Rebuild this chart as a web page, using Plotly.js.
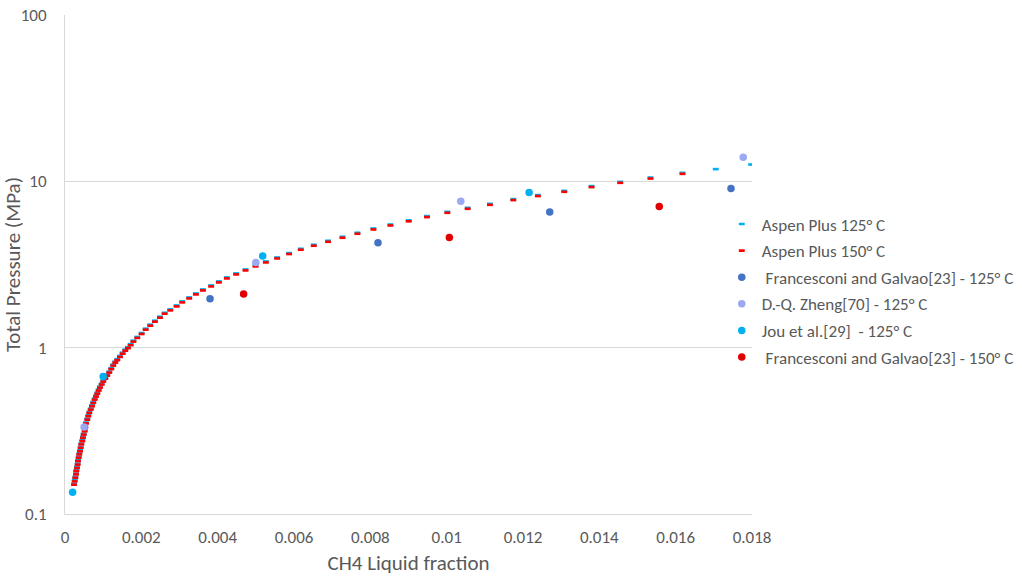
<!DOCTYPE html>
<html>
<head>
<meta charset="utf-8">
<script src="https://cdn.plot.ly/plotly-3.0.1.min.js"></script>
<style>
html,body{margin:0;padding:0;background:#fff;}
#chart{width:1022px;height:576px;}
</style>
</head>
<body>
<div id="chart"></div>
<script>
// Aspen Plus 150 °C (red dashes)
const aspen150X = [0.000236,0.000254,0.00027,0.000288,0.000296,0.000314,0.000332,0.00034,0.000359,0.000374,0.000393,0.000411,0.000427,0.000453,0.000471,0.00049,0.000516,0.000531,0.00055,0.000584,0.00061,0.000636,0.000673,0.000707,0.000741,0.000777,0.000812,0.000846,0.000882,0.000916,0.000961,0.001003,0.001055,0.001107,0.00116,0.001212,0.001264,0.001317,0.001369,0.00144,0.00151,0.001579,0.001649,0.00172,0.001793,0.001893,0.002008,0.002113,0.002233,0.002356,0.002487,0.00261,0.002757,0.002924,0.003071,0.003254,0.003429,0.003613,0.00383,0.004031,0.004241,0.004484,0.00473,0.004992,0.005262,0.005558,0.005872,0.006178,0.006518,0.006893,0.00727,0.007662,0.008081,0.008526,0.009005,0.009484,0.010018,0.01055,0.011134,0.011746,0.01239,0.013081,0.013796,0.014547,0.01534,0.016178];
const aspen150P = [0.150,0.157,0.165,0.173,0.181,0.189,0.198,0.208,0.218,0.228,0.238,0.250,0.262,0.274,0.287,0.300,0.314,0.331,0.350,0.369,0.387,0.405,0.424,0.444,0.465,0.487,0.508,0.529,0.552,0.575,0.600,0.625,0.651,0.679,0.708,0.743,0.780,0.813,0.841,0.879,0.920,0.959,0.993,1.035,1.087,1.144,1.208,1.283,1.356,1.433,1.514,1.600,1.675,1.770,1.871,1.977,2.090,2.208,2.334,2.467,2.608,2.756,2.913,3.078,3.253,3.439,3.654,3.878,4.099,4.331,4.578,4.839,5.135,5.427,5.751,6.095,6.468,6.837,7.225,7.712,8.152,8.649,9.231,9.795,10.39,11.09];

// Aspen Plus 125 °C (cyan dashes)
const aspen125X = [0.000236,0.000254,0.00027,0.000288,0.000296,0.000314,0.000332,0.00034,0.000359,0.000374,0.000393,0.000411,0.000427,0.000453,0.000471,0.00049,0.000516,0.000531,0.00055,0.000584,0.00061,0.000636,0.000673,0.000707,0.000741,0.000777,0.000812,0.000846,0.000882,0.000916,0.000961,0.001003,0.001055,0.001107,0.00116,0.001212,0.001264,0.001317,0.001369,0.00144,0.00151,0.001579,0.001649,0.00172,0.001793,0.001893,0.002008,0.002113,0.002233,0.002356,0.002487,0.00261,0.002757,0.002924,0.003071,0.003254,0.003429,0.003613,0.00383,0.004031,0.004241,0.004484,0.00473,0.004992,0.005262,0.005558,0.005872,0.006178,0.006518,0.006893,0.00727,0.007662,0.008081,0.008526,0.009005,0.009484,0.010018,0.01055,0.011134,0.011746,0.01239,0.013081,0.013796,0.014547,0.01534,0.016178,0.01705,0.017976];
const aspen125P = [0.152,0.160,0.167,0.175,0.183,0.192,0.201,0.211,0.221,0.231,0.242,0.253,0.265,0.278,0.291,0.304,0.319,0.336,0.355,0.374,0.392,0.411,0.430,0.450,0.472,0.494,0.515,0.537,0.560,0.583,0.608,0.634,0.660,0.689,0.718,0.753,0.791,0.824,0.853,0.892,0.933,0.973,1.007,1.050,1.102,1.160,1.225,1.301,1.375,1.453,1.535,1.622,1.699,1.795,1.897,2.005,2.119,2.239,2.367,2.502,2.645,2.795,2.954,3.121,3.299,3.487,3.705,3.932,4.156,4.392,4.642,4.907,5.207,5.503,5.832,6.180,6.559,6.933,7.326,7.820,8.266,8.770,9.360,9.932,10.54,11.25,11.84,12.62];

// Experimental data
const franc125X = [0.0038, 0.0082, 0.0127, 0.01745];
const franc125P = [1.97, 4.27, 6.53, 9.05];
const zhengX = [0.0005, 0.005, 0.01037, 0.01777];
const zhengP = [0.334, 3.25, 7.60, 13.97];
const jouX = [0.0002, 0.001, 0.00518, 0.01216];
const jouP = [0.135, 0.672, 3.555, 8.56];
const franc150X = [0.00468, 0.01007, 0.01557];
const franc150P = [2.10, 4.60, 7.06];

// Axis ticks
const xTickVals = [0,0.002,0.004,0.006,0.008,0.01,0.012,0.014,0.016,0.018];
const xTickText = ["0","0.002","0.004","0.006","0.008","0.01","0.012","0.014","0.016","0.018"];
const yTickVals = [0.1,1,10,100];
const yTickText = ["0.1","1","10","100"];

const names = [
  "Aspen Plus 125° C",
  "Aspen Plus 150° C",
  "\u00a0Francesconi and Galvao[23] - 125° C",
  "D.-Q. Zheng[70] - 125° C",
  "Jou et al.[29] \u00a0- 125° C",
  "\u00a0Francesconi and Galvao[23] - 150° C"
];

const FONT = "Carlito, Lato, 'Open Sans', sans-serif";
const GRAY = "#595959";

function dash(x, y, color, name, g) {
  return {x, y, name, type:"scatter", mode:"markers", legendgroup:g,
    marker:{symbol:"line-ew", size:4.2, color:color, line:{color:color, width:2.6}}};
}
function dot(x, y, color, name, g) {
  return {x, y, name, type:"scatter", mode:"markers", legendgroup:g,
    marker:{symbol:"circle", size:7.5, color:color, line:{width:0}}};
}

const data = [
  dash(aspen125X, aspen125P, "#00B0F0", names[0], "a"),
  dash(aspen150X, aspen150P, "#FF0000", names[1], "b"),
  dot(franc125X, franc125P, "#4472C4", names[2], "c"),
  dot(zhengX, zhengP, "#9BA8F2", names[3], "d"),
  dot(jouX, jouP, "#00B0F0", names[4], "e"),
  dot(franc150X, franc150P, "#E00000", names[5], "f")
];

const layout = {
  width:1022, height:576,
  margin:{l:65, r:270, t:15, b:62, autoexpand:false},
  paper_bgcolor:"#fff", plot_bgcolor:"#fff",
  font:{family:FONT, color:GRAY, size:17},
  showlegend:true,
  legend:{x:0.956, xanchor:"left", y:0.447, yanchor:"middle",
    traceorder:"grouped", tracegroupgap:1.5, itemwidth:30,
    font:{family:FONT, size:17, color:GRAY}, bgcolor:"rgba(0,0,0,0)"},
  xaxis:{range:[0,0.018], tickvals:xTickVals, ticktext:xTickText,
    showgrid:false, zeroline:false, showline:true, linecolor:"#D9D9D9", linewidth:1,
    ticks:"", ticklabelstandoff:8, tickfont:{size:17, color:GRAY},
    title:{text:"CH4 Liquid fraction", font:{size:21, color:GRAY}}},
  yaxis:{type:"log", range:[-1,2], tickvals:yTickVals, ticktext:yTickText,
    showgrid:true, gridcolor:"#D9D9D9", gridwidth:1, zeroline:false,
    showline:true, linecolor:"#D9D9D9", linewidth:1,
    ticks:"", ticklabelstandoff:14, tickfont:{size:17, color:GRAY},
    title:{text:"Total Pressure (MPa)", font:{size:21, color:GRAY}}}
};

Plotly.newPlot("chart", data, layout, {displayModeBar:false, staticPlot:true});
</script>
</body>
</html>
